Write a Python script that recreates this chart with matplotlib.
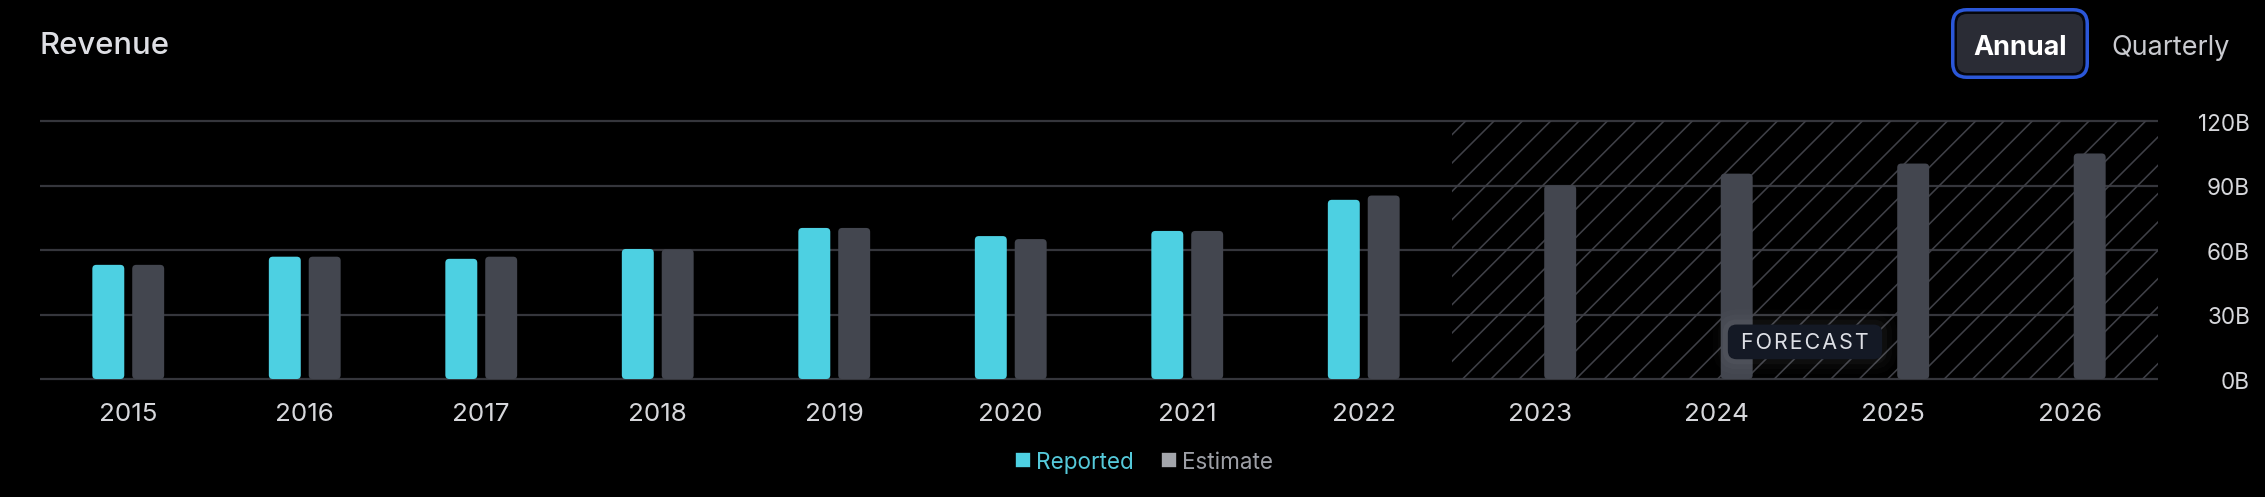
import matplotlib
matplotlib.use('Agg')
import matplotlib.pyplot as plt
from matplotlib.patches import FancyBboxPatch, Rectangle
from matplotlib.lines import Line2D
from matplotlib.transforms import Affine2D
import matplotlib.patheffects as pe
import numpy as np

# ---------------- data ----------------
years = ['2015', '2016', '2017', '2018', '2019', '2020', '2021', '2022',
         '2023', '2024', '2025', '2026']
reported = [53.2, 57.0, 56.0, 60.6, 70.4, 66.6, 69.0, 83.5]
estimate = [53.2, 57.0, 57.0, 60.4, 70.4, 65.2, 69.0, 85.5,
            90.3, 95.7, 100.4, 105.1]
yticks = [0, 30, 60, 90, 120]
ytick_labels = ['0B', '30B', '60B', '90B', '120B']
forecast_from = '2023'
title = 'Revenue'
legend_labels = ['Reported', 'Estimate']
buttons = ['Annual', 'Quarterly']
forecast_text = 'FORECAST'

# ---------------- style ----------------
DPI = 170
W, H = 2265, 498
def pt(px):
    return px * 72.0 / DPI

FONT = ['Inter', 'DejaVu Sans']
plt.rcParams['font.family'] = FONT
plt.rcParams['hatch.linewidth'] = pt(1.6)

BG = '#000000'
CYAN = '#4dd0e2'
GRAYBAR = '#43464f'
GRID = '#35363c'
HATCH = '#3f4047'
TICK = '#d6d7db'

fig = plt.figure(figsize=(W / DPI, H / DPI), dpi=DPI, facecolor=BG)

# axes: x from -0.5..11.5 spans px 40..2158 ; y -1..121 -> px 382.15..120.35
ax_top, ax_bot = 120.35, 382.15
ax = fig.add_axes([40 / W, 1 - ax_bot / H, (2158 - 40) / W, (ax_bot - ax_top) / H])
ax.set_facecolor(BG)
x = np.arange(len(years))
ax.set_xlim(-0.5, len(years) - 0.5)
ax.set_ylim(-1, 121)

bw = 0.181
off = 0.113
nrep = len(reported)

px_per_x = (2158 - 40) / len(years)
px_per_y = (ax_bot - ax_top) / 122.0
r_px = 4.0
rs = r_px / px_per_x
aspect = px_per_x / px_per_y

def rounded(bars, color):
    for p in bars:
        p.set_visible(False)
        fb = FancyBboxPatch((p.get_x(), p.get_y()), p.get_width(), p.get_height(),
                            boxstyle=f'round,pad=0,rounding_size={rs}',
                            mutation_aspect=aspect, fc=color, ec='none', zorder=3)
        ax.add_patch(fb)

b1 = ax.bar(x[:nrep] - off, reported, width=bw, color=CYAN, zorder=3)
b2 = ax.bar(x + off, estimate, width=bw, color=GRAYBAR, zorder=3)
rounded(b1, CYAN)
rounded(b2, GRAYBAR)

# forecast hatched zone
fi = years.index(forecast_from)
hatch = Rectangle((fi - 0.5, 0), len(years) - fi, yticks[-1], fill=False,
                  hatch='//', edgecolor=HATCH, lw=0, zorder=1)
ax.add_patch(hatch)

# grid
ax.set_yticks(yticks, ytick_labels)
ax.grid(axis='y', color=GRID, lw=pt(2.2), zorder=0)
ax.set_axisbelow(True)
for s in ax.spines.values():
    s.set_visible(False)
ax.yaxis.tick_right()
ax.tick_params(axis='y', length=0, pad=pt(92), labelsize=pt(22.5), labelcolor=TICK)
for lbl in ax.get_yticklabels():
    lbl.set_horizontalalignment('right')
ax.set_xticks(x, years)
ax.tick_params(axis='x', length=0, pad=pt(21), labelsize=pt(26), labelcolor=TICK)

# forecast label
fx = (years.index('2024') + years.index('2025')) / 2.0
t = ax.text(fx, 17.3, ' ' + '\u200a'.join(forecast_text) + ' ', ha='center', va='center',
            fontsize=pt(21.5), color='#dcdee4', zorder=6,
            bbox=dict(boxstyle='round,pad=0.34,rounding_size=0.4', fc='#141925', ec='none'))
t.get_bbox_patch().set_path_effects([
    pe.Stroke(linewidth=pt(30), foreground='#ffffff', alpha=0.015),
    pe.Stroke(linewidth=pt(20), foreground='#ffffff', alpha=0.02),
    pe.Stroke(linewidth=pt(10), foreground='#ffffff', alpha=0.03),
    pe.Normal()])

# title
fig.text(40 / W, 1 - 53.5 / H, title, ha='left', va='baseline', fontsize=pt(31),
         color='#dedfe4', fontweight='medium')

# buttons (pixel coords, top-down)
tr = Affine2D().scale(1.0 / W, -1.0 / H).translate(0, 1) + fig.transFigure
outer = FancyBboxPatch((1952.75, 10.75), 2087.25 - 1952.75, 78.25 - 10.75,
                       boxstyle='round,pad=0,rounding_size=14', transform=tr,
                       fc='#05060a', ec='#2b57d8', lw=pt(3.5))
inner = FancyBboxPatch((1957, 15), 2083 - 1957, 74 - 15,
                       boxstyle='round,pad=0,rounding_size=10', transform=tr,
                       fc='#2a2c35', ec='none')
fig.patches.extend([outer, inner])
fig.text(2020 / W, 1 - 55 / H, buttons[0], ha='center', va='baseline',
         fontsize=pt(27), fontweight='bold', color='#ffffff')
fig.text(2171 / W, 1 - 55 / H, buttons[1], ha='center', va='baseline',
         fontsize=pt(27), color='#c9cacf')

# legend
handles = [Line2D([], [], ls='', marker='s', markersize=pt(11.5), mfc=CYAN, mec=CYAN),
           Line2D([], [], ls='', marker='s', markersize=pt(11.5), mfc='#a3a5ab', mec='#a3a5ab')]
leg = fig.legend(handles, legend_labels, loc='center', ncol=2, frameon=False,
                 bbox_to_anchor=(1145 / W, 1 - 463 / H), fontsize=pt(22.5),
                 handlelength=0.55, handletextpad=0.3, columnspacing=1.3)
leg.get_texts()[0].set_color('#55c9da')
leg.get_texts()[1].set_color('#9d9fa6')

fig.savefig('out.png', dpi=DPI, facecolor=BG)
